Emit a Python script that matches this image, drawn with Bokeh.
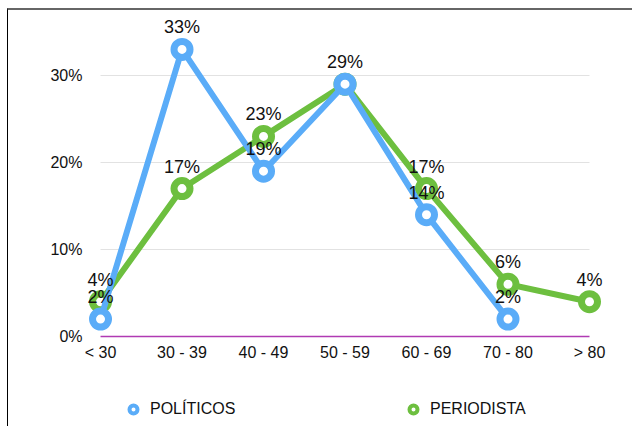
from bokeh.plotting import figure
from bokeh.layouts import column
from bokeh.models import Range1d, FixedTicker, Legend, LegendItem, ColumnDataSource
from bokeh.embed import file_html
from bokeh.resources import INLINE
from bokeh.core.properties import value

categories = ["< 30", "30 - 39", "40 - 49", "50 - 59", "60 - 69", "70 - 80", "> 80"]
politicos = [2, 33, 19, 29, 14, 2, None]
periodista = [4, 17, 23, 29, 17, 6, 4]
series_names = ["POLÍTICOS", "PERIODISTA"]
y_ticks = [0, 10, 20, 30]

BLUE = "#5aacf8"
GREEN = "#6dbf3f"
PURPLE = "#b03ab3"
FONT = "Liberation Sans"

p = figure(width=624, height=356, output_backend="svg", toolbar_location=None,
           x_range=Range1d(-0.172, 6.184), y_range=Range1d(-0.46, 37.24),
           min_border_left=78, min_border_right=28, min_border_top=2, min_border_bottom=26)
p.outline_line_color = None
p.grid.visible = False
p.background_fill_color = "white"

xs = list(range(len(categories)))

# gridlines spanning first to last category
grid_src = ColumnDataSource(dict(x0=[0] * 3, x1=[len(categories) - 1] * 3, y=y_ticks[1:]))
p.segment(x0="x0", y0="y", x1="x1", y1="y", source=grid_src, line_color="#e2e2e2", line_width=1)
p.segment(x0=[0], y0=[y_ticks[0]], x1=[len(categories) - 1], y1=[y_ticks[0]], line_color=PURPLE, line_width=1.5)

def series(vals):
    x = [i for i, v in zip(xs, vals) if v is not None]
    y = [v for v in vals if v is not None]
    return x, y

for vals, color in [(periodista, GREEN), (politicos, BLUE)]:
    x, y = series(vals)
    p.line(x, y, line_color=color, line_width=6, line_join="round")
    p.scatter(x, y, size=16, line_color=color, line_width=7, fill_color="white")

# data labels (one label where both series share the same value)
lx, ly = series(periodista)
px_, py_ = series(politicos)
for i, v in zip(px_, py_):
    if periodista[i] != v:
        lx.append(i)
        ly.append(v)
p.text(lx, ly, text=[f"{v}%" for v in ly], text_align="center", text_baseline="bottom",
       y_offset=-12, text_font=value(FONT), text_font_size="18px", text_color="#111111")

# axes
p.xaxis.ticker = FixedTicker(ticks=xs)
p.xaxis.major_label_overrides = {i: c for i, c in enumerate(categories)}
p.yaxis.ticker = FixedTicker(ticks=y_ticks)
p.yaxis.major_label_overrides = {t: f"{t}%" for t in y_ticks}
for ax in [p.xaxis[0], p.yaxis[0]]:
    ax.axis_line_color = None
    ax.major_tick_line_color = None
    ax.minor_tick_line_color = None
    ax.major_tick_out = 0
    ax.major_tick_in = 0
    ax.major_label_text_font = FONT
    ax.major_label_text_font_size = "16px"
    ax.major_label_text_color = "#111111"
p.yaxis.major_label_standoff = 4
p.xaxis.major_label_standoff = 3

# legend in its own strip below the chart (series points fall outside this strip's range)
lg = figure(width=624, height=60, output_backend="svg", toolbar_location=None,
            x_range=Range1d(0, 1), y_range=Range1d(-2, -1),
            x_axis_location=None, y_axis_location=None,
            min_border_left=0, min_border_right=0, min_border_top=0, min_border_bottom=0)
lg.outline_line_color = None
lg.grid.visible = False
bx, by = series(politicos)
gx, gy = series(periodista)
r1 = lg.scatter(bx, by, size=8, line_color=BLUE, line_width=4, fill_color="white")
r2 = lg.scatter(gx, gy, size=8, line_color=GREEN, line_width=4, fill_color="white")
legend = Legend(items=[LegendItem(label=series_names[0], renderers=[r1]),
                       LegendItem(label=series_names[1], renderers=[r2])],
                orientation="horizontal", location=(37, 7),
                margin=0, padding=2, spacing=153, label_width=100,
                glyph_width=20, glyph_height=20, label_standoff=7,
                label_text_font=FONT, label_text_font_size="16px", label_text_color="#111111",
                border_line_color=None, background_fill_alpha=0)
lg.add_layout(legend, "center")

layout = column(p, lg, spacing=0)
layout.styles = {"margin-left": "7px", "margin-top": "8px",
                 "border-left": "1px solid #000000", "border-top": "2px solid #666666"}

open("out.html", "w").write(file_html(layout, INLINE))
